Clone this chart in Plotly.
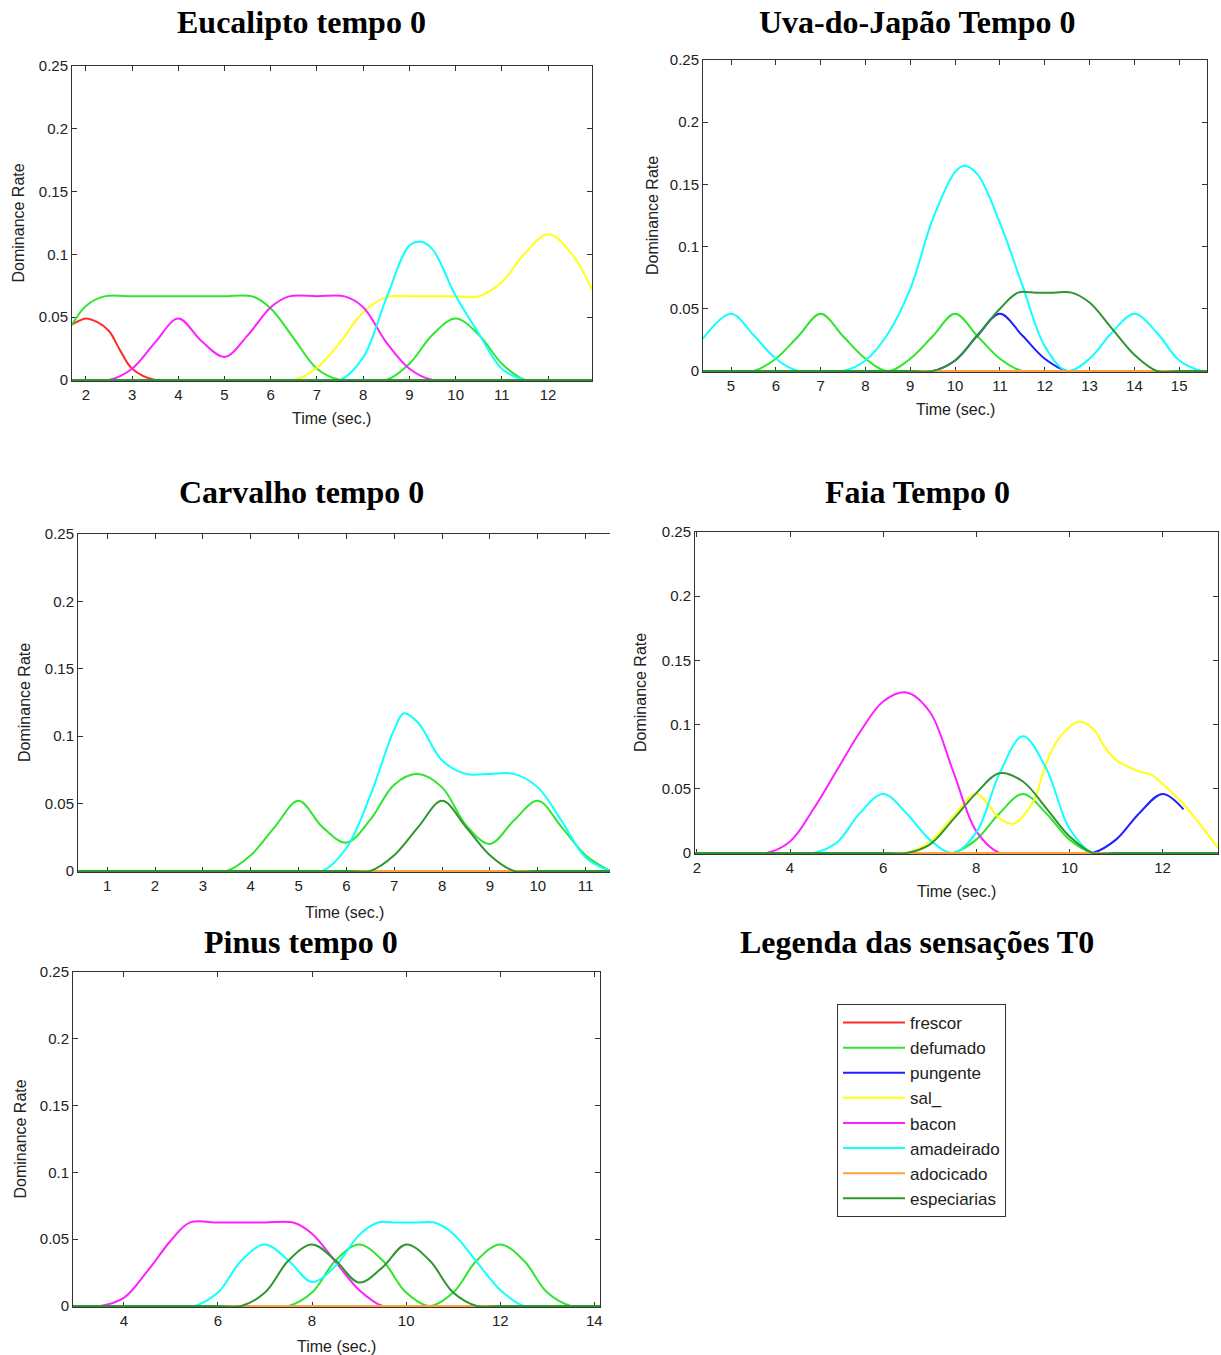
import plotly.graph_objects as go

# ---------------- data ----------------
SENSATIONS = ["frescor", "defumado", "pungente", "sal_", "bacon",
              "amadeirado", "adocicado", "especiarias"]
COLORS = ["#ff2a2a", "#2ee62e", "#2020ff", "#ffff10", "#ff20ff",
          "#10ffff", "#ffa040", "#2f962f"]

# Eucalipto tempo 0
euc_span = [1.7, 12.95]
euc_frescor_t = [1.7, 2, 2.25, 2.5, 2.75, 3, 3.5, 4, 12.95]
euc_frescor_v = [0.044, 0.049, 0.046, 0.039, 0.023, 0.009, 0, 0, 0]
euc_defumado_t = [1.7, 2, 2.4, 3, 3.5, 4, 4.5, 5, 5.6, 6, 6.5, 7, 7.5, 8, 8.5, 9, 9.5, 10,
                  10.5, 11, 11.5, 12, 12.95]
euc_defumado_v = [0.044, 0.059, 0.0666, 0.0666, 0.0666, 0.0666, 0.0666, 0.0666, 0.0666, 0.057,
                  0.033, 0.009, 0, 0, 0, 0.013, 0.036, 0.049, 0.036, 0.013, 0, 0, 0]
euc_sal_t = [1.7, 6, 6.5, 7, 7.5, 8, 8.5, 9, 9.5, 10, 10.5, 11, 11.5, 12, 12.5, 12.95]
euc_sal_v = [0, 0, 0, 0.0097, 0.030, 0.054, 0.066, 0.0666, 0.0666, 0.0666, 0.0666, 0.078,
             0.101, 0.116, 0.101, 0.072]
euc_bacon_t = [1.7, 2, 2.5, 3, 3.5, 4, 4.5, 5, 5.5, 6, 6.4, 7, 7.6, 8, 8.5, 9, 9.5, 10, 12.95]
euc_bacon_v = [0, 0, 0, 0.009, 0.030, 0.049, 0.031, 0.0184, 0.0355, 0.058, 0.0666, 0.0666,
               0.0666, 0.058, 0.030, 0.009, 0, 0, 0]
euc_amadeirado_t = [1.7, 7, 7.5, 8, 8.5, 9, 9.25, 9.5, 10, 10.5, 11, 11.5, 12, 12.95]
euc_amadeirado_v = [0, 0, 0, 0.018, 0.065, 0.107, 0.110, 0.104, 0.067, 0.037, 0.009, 0, 0, 0]

# Uva-do-Japão Tempo 0
uva_span = [4.375, 15.62]
uva_defumado_t = [4.375, 5, 5.5, 6, 6.5, 7, 7.5, 8, 8.5, 9, 9.5, 10, 10.5, 11, 11.5, 12, 15.62]
uva_defumado_v = [0, 0, 0, 0.0099, 0.028, 0.046, 0.028, 0.0099, 0, 0.0099, 0.028, 0.046, 0.028,
                  0.0099, 0, 0, 0]
uva_pungente_t = [4.375, 9, 9.5, 10, 10.5, 11, 11.5, 12, 12.5, 13, 15.62]
uva_pungente_v = [0, 0, 0, 0.0085, 0.0285, 0.046, 0.0285, 0.0099, 0, 0, 0]
uva_amadeirado_t = [4.375, 5, 5.5, 6, 6.5, 7, 7.5, 8, 8.5, 9, 9.5, 10, 10.2, 10.5, 11, 11.5, 12,
                    12.5, 13, 13.5, 14, 14.5, 15, 15.5, 15.62]
uva_amadeirado_v = [0.026, 0.046, 0.029, 0.0099, 0, 0, 0, 0.0085, 0.030, 0.066, 0.122, 0.160,
                    0.165, 0.158, 0.119, 0.069, 0.020, 0, 0.0099, 0.031, 0.046, 0.031, 0.0085, 0, 0]
uva_especiarias_t = [4.375, 9, 9.5, 10, 10.5, 11, 11.4, 11.8, 12.2, 12.6, 13, 13.5, 14, 14.5,
                     15, 15.62]
uva_especiarias_v = [0, 0, 0, 0.0085, 0.029, 0.050, 0.063, 0.063, 0.063, 0.063, 0.055, 0.034,
                     0.013, 0, 0, 0]

# Carvalho tempo 0
car_span = [0.39, 11.51]
car_defumado_t = [0.39, 3, 3.5, 4, 4.5, 5, 5.5, 6, 6.5, 7, 7.5, 8, 8.5, 9, 9.5, 10, 10.5, 11, 11.51]
car_defumado_v = [0, 0, 0, 0.0116, 0.0325, 0.052, 0.0325, 0.021, 0.038, 0.064, 0.072, 0.062,
                  0.034, 0.020, 0.0374, 0.052, 0.0325, 0.0116, 0]
car_amadeirado_t = [0.39, 5, 5.5, 6, 6.5, 7, 7.2, 7.5, 8, 8.5, 9, 9.5, 10, 10.5, 11, 11.51]
car_amadeirado_v = [0, 0, 0, 0.017, 0.056, 0.105, 0.117, 0.110, 0.082, 0.072, 0.072, 0.072,
                    0.062, 0.037, 0.010, 0]
car_especiarias_t = [0.39, 6, 6.5, 7, 7.5, 8, 8.5, 9, 9.5, 10, 11.51]
car_especiarias_v = [0, 0, 0, 0.0116, 0.0325, 0.052, 0.0325, 0.0116, 0, 0, 0]

# Faia Tempo 0
fai_span = [1.96, 13.19]
fai_defumado_t = [1.96, 7, 7.5, 8, 8.5, 9, 9.5, 10, 10.5, 11, 13.19]
fai_defumado_v = [0, 0, 0, 0.0104, 0.031, 0.046, 0.031, 0.0104, 0, 0, 0]
fai_pungente_t = [1.96, 10, 10.5, 11, 11.5, 12, 12.45]
fai_pungente_v = [0, 0, 0, 0.0104, 0.031, 0.046, 0.034]
fai_sal_t = [1.96, 6, 6.5, 7, 7.5, 8, 8.5, 8.8, 9, 9.25, 9.5, 9.75, 10, 10.2, 10.5, 10.75, 11,
             11.5, 11.75, 12, 12.5, 13, 13.19]
fai_sal_v = [0, 0, 0, 0.0085, 0.028, 0.046, 0.027, 0.0228, 0.0285, 0.042, 0.070, 0.088, 0.098,
             0.1023, 0.097, 0.083, 0.0725, 0.0635, 0.061, 0.054, 0.036, 0.013, 0.004]
fai_bacon_t = [1.96, 3, 3.5, 4, 4.5, 5, 5.5, 6, 6.5, 7, 7.5, 8, 8.5, 9, 13.19]
fai_bacon_v = [0, 0, 0, 0.009, 0.034, 0.064, 0.094, 0.118, 0.125, 0.110, 0.064, 0.017, 0, 0, 0]
fai_amadeirado_t = [1.96, 4, 4.5, 5, 5.5, 6, 6.5, 7, 7.5, 8, 8.5, 9, 9.5, 10, 10.5, 11, 13.19]
fai_amadeirado_v = [0, 0, 0, 0.008, 0.031, 0.046, 0.031, 0.0104, 0, 0.016, 0.062, 0.091, 0.066,
                    0.019, 0, 0, 0]
fai_especiarias_t = [1.96, 6, 6.5, 7, 7.5, 8, 8.5, 9, 9.5, 10, 10.5, 11, 13.19]
fai_especiarias_v = [0, 0, 0, 0.0065, 0.026, 0.0466, 0.0622, 0.0557, 0.035, 0.013, 0, 0, 0]

# Pinus tempo 0
pin_span = [2.92, 14.12]
pin_defumado_t = [2.92, 7, 7.5, 8, 8.5, 9, 9.5, 10, 10.5, 11, 11.5, 12, 12.5, 13, 13.5, 14, 14.12]
pin_defumado_v = [0, 0, 0, 0.010, 0.034, 0.046, 0.034, 0.010, 0, 0.010, 0.034, 0.046, 0.034,
                  0.010, 0, 0, 0]
pin_bacon_t = [2.92, 3, 3.5, 4, 4.5, 5, 5.4, 6, 6.5, 7, 7.6, 8, 8.5, 9, 9.5, 10, 14.12]
pin_bacon_v = [0, 0, 0, 0.006, 0.026, 0.049, 0.0624, 0.0624, 0.0624, 0.0624, 0.0624, 0.054,
               0.033, 0.012, 0, 0, 0]
pin_amadeirado_t = [2.92, 5, 5.5, 6, 6.5, 7, 7.5, 8, 8.5, 9, 9.4, 9.8, 10.2, 10.6, 11, 11.5, 12,
                    12.5, 13, 14.12]
pin_amadeirado_v = [0, 0, 0, 0.010, 0.034, 0.046, 0.034, 0.018, 0.030, 0.053, 0.0624, 0.0624,
                    0.0624, 0.0624, 0.054, 0.033, 0.012, 0, 0, 0]
pin_especiarias_t = [2.92, 6, 6.5, 7, 7.5, 8, 8.5, 9, 9.5, 10, 10.5, 11, 11.5, 12, 14.12]
pin_especiarias_v = [0, 0, 0, 0.010, 0.034, 0.046, 0.034, 0.0175, 0.029, 0.046, 0.034, 0.010,
                     0, 0, 0]

# ---------------- assembly ----------------
G = globals()


def series(prefix, span):
    out = []
    for s in SENSATIONS:
        t = G.get(f"{prefix}_{s.rstrip('_')}_t")
        v = G.get(f"{prefix}_{s.rstrip('_')}_v")
        if t is None:
            t, v = span, [0, 0]
        out.append((t, v))
    return out


W, H = 1221, 1355
PANELS = [
    # title, prefix, span, (left, right, top, bottom) px, dtick, title center, ylab x, xlab y, right spine
    ("Eucalipto tempo 0", "euc", euc_span, (72, 592, 66, 381), 1, (301, 22), 18, 418, True),
    ("Uva-do-Japão Tempo 0", "uva", uva_span, (703, 1207, 60, 372), 1, (917, 22), 652, 409, True),
    ("Carvalho tempo 0", "car", car_span, (78, 610, 534, 872), 1, (301, 492), 24, 912, False),
    ("Faia Tempo 0", "fai", fai_span, (695, 1218, 532, 854), 2, (917, 492), 641, 891, True),
    ("Pinus tempo 0", "pin", pin_span, (73, 600, 972, 1307), 2, (301, 942), 20, 1346, True),
]

TICKFONT = dict(family="Liberation Sans Narrow, Liberation Sans, Arial", size=15, color="#222")
LABFONT = dict(family="Liberation Sans, Arial", size=16, color="#222")
TITLEFONT = dict(family="Liberation Serif, Times New Roman, serif", size=32, color="#000")

fig = go.Figure()
annotations = []
layout = {}
for i, (title, prefix, span, (l, r, t, b), dtick, (tx, ty), ylx, xly, right) in enumerate(PANELS, start=1):
    xa = "x" if i == 1 else f"x{i}"
    ya = "y" if i == 1 else f"y{i}"
    for k, (tt, vv) in enumerate(series(prefix, span)):
        fig.add_trace(go.Scatter(
            x=tt, y=vv, mode="lines", name=SENSATIONS[k],
            line=dict(color=COLORS[k], width=2, shape="spline", smoothing=1.0, simplify=False),
            xaxis=xa, yaxis=ya, legendgroup=SENSATIONS[k], showlegend=(i == 1),
            hoverinfo="skip"))
    layout["xaxis" if i == 1 else f"xaxis{i}"] = dict(
        domain=[l / W, r / W], anchor=ya, range=span, dtick=dtick, tick0=0, automargin=False,
        showline=True, linecolor="#333", linewidth=1, mirror="ticks",
        ticks="inside", ticklen=5, tickcolor="#333", tickwidth=1,
        showgrid=False, zeroline=False, tickfont=TICKFONT, layer="below traces")
    layout["yaxis" if i == 1 else f"yaxis{i}"] = dict(
        domain=[1 - b / H, 1 - t / H], anchor=xa, range=[-0.0008, 0.25], dtick=0.05, tick0=0,
        automargin=False,
        showline=True, linecolor="#333", linewidth=1, mirror="ticks" if right else False,
        ticks="inside", ticklen=5, tickcolor="#333", tickwidth=1,
        showgrid=False, zeroline=False, tickfont=TICKFONT, layer="below traces")
    annotations.append(dict(text=f"<b>{title}</b>", x=tx / W, y=1 - ty / H, xref="paper", yref="paper",
                            showarrow=False, font=TITLEFONT, xanchor="center", yanchor="middle"))
    annotations.append(dict(text="Dominance Rate", x=ylx / W, y=1 - (t + b) / 2 / H, xref="paper",
                            yref="paper", showarrow=False, font=LABFONT, textangle=-90,
                            xanchor="center", yanchor="middle"))
    annotations.append(dict(text="Time (sec.)", x=(l + r) / 2 / W, y=1 - xly / H, xref="paper",
                            yref="paper", showarrow=False, font=LABFONT,
                            xanchor="center", yanchor="middle"))

annotations.append(dict(text="<b>Legenda das sensações T0</b>", x=917 / W, y=1 - 942 / H,
                        xref="paper", yref="paper", showarrow=False, font=TITLEFONT,
                        xanchor="center", yanchor="middle"))

fig.update_layout(
    width=W, height=H, margin=dict(l=0, r=0, t=0, b=0, autoexpand=False),
    paper_bgcolor="white", plot_bgcolor="white",
    annotations=annotations,
    legend=dict(x=837 / W, y=1 - 1004 / H, xanchor="left", yanchor="top",
                bordercolor="#333", borderwidth=1, bgcolor="white",
                font=dict(family="Liberation Sans, Arial", size=17, color="#222"),
                traceorder="grouped", tracegroupgap=0, itemwidth=62),
    **layout,
)

fig.write_html("out.html")
